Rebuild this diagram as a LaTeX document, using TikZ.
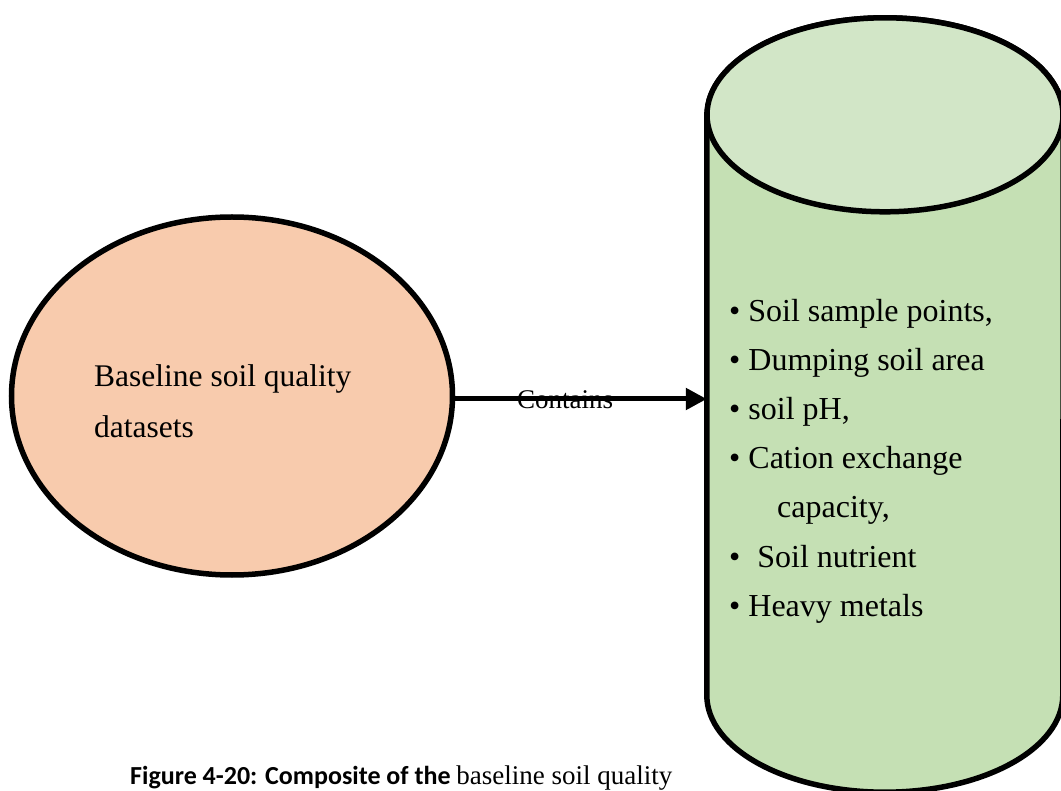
\documentclass[tikz,border=0pt]{standalone}
\usepackage{fontspec}
\setmainfont{Liberation Serif}
\newfontfamily\capfont{Carlito}
\usetikzlibrary{shapes.geometric,arrows.meta}

\definecolor{peach}{HTML}{F8CBAD}
\definecolor{sidegreen}{HTML}{C5E0B4}
\definecolor{topgreen}{HTML}{D2E6C7}

\tikzset{
  outline/.style={draw=black, line width=5.5pt},
  itemtext/.style={anchor=base west, inner sep=0pt, font=\fontsize{32}{36}\selectfont},
  bodytext/.style={anchor=base west, inner sep=0pt, font=\fontsize{31.5}{36}\selectfont},
  link/.style={line width=5pt, -{Triangle[length=21pt,width=21pt]}},
}

\begin{document}
\begin{tikzpicture}[x=1pt, y=-1pt]
  \useasboundingbox (0,0) rectangle (1061,791);
  \clip (0,0) rectangle (1061,791);

  % source dataset
  \node[ellipse, outline, fill=peach, minimum width=441pt, minimum height=358pt, inner sep=0pt] (base) at (232,396) {};
  \node[bodytext] (basetext1) at (94,387) {Baseline soil quality};
  \node[bodytext] (basetext2) at (94,438) {datasets};

  % storage cylinder: body frame used for anchoring
  \node[minimum width=356pt, minimum height=580pt, inner sep=0pt] (store) at (885,405) {};
  \path[outline, fill=sidegreen]
    (store.north west) -- (store.south west)
    arc[start angle=180, end angle=360, x radius=178pt, y radius=97pt]
    -- (store.north east)
    arc[start angle=0, end angle=180, x radius=178pt, y radius=97pt] -- cycle;
  \path[outline, fill=topgreen] (store.north) ellipse[x radius=178pt, y radius=97pt];

  % contents list
  \node[itemtext] (i1) at (729,322) {• Soil sample points,};
  \node[itemtext] (i2) at (729,371) {• Dumping soil area};
  \node[itemtext] (i3) at (729,420) {• soil pH,};
  \node[itemtext] (i4) at (729,469) {• Cation exchange};
  \node[itemtext] (i5) at (777,518) {capacity,};
  \node[itemtext] (i6) at (729,567) {•\hspace{17pt}Soil nutrient};
  \node[itemtext] (i7) at (729,616) {• Heavy metals};

  % relation
  \node[anchor=base, inner sep=0pt, font=\fontsize{27}{32}\selectfont] (rel) at (565,409) {Contains};
  \draw[link] ([yshift=-3pt]base.east) -- ([yshift=-3pt]base.east -| store.west);

  % caption
  \node[anchor=base west, inner sep=0pt] (cap) at (130,784)
    {{\capfont\bfseries\fontsize{26}{30}\selectfont Figure 4-20: Composite of the }{\fontsize{27}{30}\selectfont baseline soil quality}};
\end{tikzpicture}
\end{document}
